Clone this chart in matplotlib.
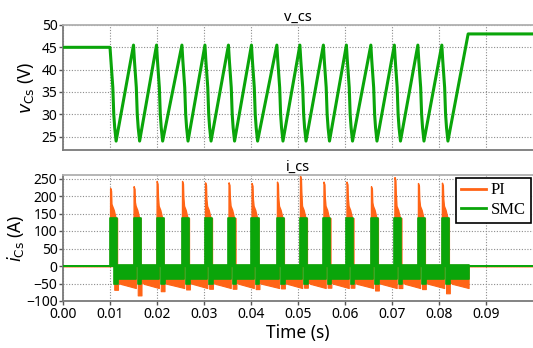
import matplotlib
matplotlib.use("Agg")
import matplotlib.pyplot as plt
from matplotlib.lines import Line2D

# ---- values ----
# start of each discharge pulse (s) = v_cs peaks
pulse_t = [0.0100, 0.0150, 0.0199, 0.0253, 0.0302, 0.0352, 0.0401, 0.0455,
           0.0504, 0.0554, 0.0603, 0.0655, 0.0705, 0.0755, 0.0806]
# PI current spike at each pulse (A)
pi_peak = [223, 228, 243, 243, 239, 239, 237, 241, 258, 241, 241, 228, 254, 237, 238]
# PI negative dip at end of each pulse (A)
pi_dip = [-68, -84, -72, -67, -65, -65, -66, -64, -62, -62, -62, -70, -63, -66, -78]

# v_cs drop profile after a peak
drop_dt = [0.0, 0.0002, 0.0006, 0.0008, 0.0010, 0.0013]
drop_v = [45.5, 42.0, 36.0, 30.0, 27.0, 24.0]
v_rest = 45.0
v_end = 48.0
t_end_rise = 0.0862

# current levels
smc_pulse = 137
smc_band = (-37, 3)
smc_dip = -50
pi_band = (-46, -51, -63)   # start, shortly after, end of each negative band
pi_shoulder = [172, 160, 137]
band_end = 0.0863
t_stop = 0.1

w = 0.0015  # pulse width

# ---- build v_cs path ----
tv, vv = [0.0, pulse_t[0]], [v_rest, v_rest]
for k, tp in enumerate(pulse_t):
    for d, val in zip(drop_dt, drop_v):
        if k == 0 and d == 0.0:
            continue
        tv.append(tp + d)
        vv.append(val)
tv += [t_end_rise, t_stop]
vv += [v_end, v_end]

# ---- build current envelopes ----
g_hi_t, g_hi = [0.0], [0]
o_hi_t, o_hi = [0.0], [0]
g_lo_t, g_lo = [0.0], [0]
o_lo_t, o_lo = [0.0], [0]
for k, tp in enumerate(pulse_t):
    base = 0 if k == 0 else smc_band[1]
    g_hi_t += [tp, tp, tp + w, tp + w]
    g_hi += [base, smc_pulse, smc_pulse, smc_band[1]]
    o_hi_t += [tp, tp + 0.00003, tp + 0.00022, tp + 0.0003, tp + 0.00045,
               tp + 0.0008, tp + 0.0012, tp + w, tp + w]
    o_hi += [base, pi_peak[k], pi_peak[k] - 8, pi_peak[k] - 45, pi_shoulder[0],
             pi_shoulder[1], pi_shoulder[2], smc_pulse, smc_band[1]]

    ns, ge, se = tp + 0.0005, tp + 0.0009, tp + w + 0.0002
    if k == 0:
        g_lo_t += [ge, ge, se, se]
        g_lo += [0, smc_dip, smc_dip, smc_band[0]]
        o_lo_t += [ge, ge, se, se, se + 0.0005]
        o_lo += [0, pi_dip[k], pi_dip[k], pi_band[0], pi_band[1]]
    else:
        g_lo_t += [ns, ns, ge, ge, se, se]
        g_lo += [smc_band[0], 0, 0, smc_dip, smc_dip, smc_band[0]]
        o_lo_t += [ns, ns, ge, ge, se, se, se + 0.0005]
        o_lo += [pi_band[2], 0, 0, pi_dip[k], pi_dip[k], pi_band[0], pi_band[1]]

g_hi_t += [band_end, band_end, t_stop]
g_hi += [smc_band[1], 0, 0]
o_hi_t += [band_end, band_end, t_stop]
o_hi += [smc_band[1], 0, 0]
g_lo_t += [band_end, band_end, t_stop]
g_lo += [smc_band[0], 0, 0]
o_lo_t += [band_end, band_end, t_stop]
o_lo += [pi_band[2], 0, 0]

# ---- style ----
orange = "#ff6416"
green = "#0aa50a"
plt.rcParams["font.family"] = ["Noto Sans", "DejaVu Sans"]
plt.rcParams["font.size"] = 10

fig = plt.figure(figsize=(5.33, 3.48), dpi=100)
ax1 = fig.add_axes([63 / 533, 1 - 150 / 348, 470 / 533, 125 / 348])
ax2 = fig.add_axes([63 / 533, 1 - 301 / 348, 470 / 533, 126 / 348])

ax1.plot(tv, vv, color=orange, lw=1.0, zorder=2)
ax1.plot(tv, vv, color=green, lw=2.2, zorder=3)

ax2.fill_between(o_hi_t, 0, o_hi, color=orange, lw=1.0, zorder=2)
ax2.fill_between(o_lo_t, o_lo, 0, color=orange, lw=0.8, zorder=2)
ax2.fill_between(g_hi_t, 0, g_hi, color=green, lw=1.2, zorder=3)
ax2.fill_between(g_lo_t, g_lo, 0, color=green, lw=1.2, zorder=3)

xt = [i / 100 for i in range(10)]
for ax in (ax1, ax2):
    ax.set_xlim(0, t_stop)
    ax.set_xticks(xt)
    ax.grid(True, color="#8c8c8c", linestyle=(0, (1, 1.5)), lw=0.8)
    ax.set_axisbelow(True)
    ax.tick_params(direction="out", length=3, width=1, color="#555555",
                   labelsize=10, pad=1)
    for s in ("left", "bottom"):
        ax.spines[s].set_color("#7a7a7a")
        ax.spines[s].set_linewidth(1.3)
    ax.spines["top"].set_color("#b0b0b0")
    ax.spines["top"].set_linewidth(1.3)
    ax.spines["right"].set_visible(False)

ax1.set_ylim(22, 50)
ax1.set_yticks([25, 30, 35, 40, 45, 50])
ax1.tick_params(axis="x", labelbottom=False, length=0)
ax1.set_title("v_cs", fontsize=10.5, pad=3)
ax1.set_ylabel(r"$v_{\mathrm{Cs}}$ (V)", fontsize=12.5, labelpad=4)

ax2.set_ylim(-100, 260)
ax2.set_yticks(range(-100, 251, 50))
ax2.set_xticklabels([f"{x:.2f}" for x in xt])
ax2.set_title("i_cs", fontsize=10.5, pad=3)
ax2.set_ylabel(r"$i_{\mathrm{Cs}}$ (A)", fontsize=12.5, labelpad=0)
ax2.set_xlabel("Time (s)", fontsize=12.5, labelpad=2)

handles = [Line2D([], [], color=orange, lw=2), Line2D([], [], color=green, lw=2)]
leg = ax2.legend(handles, ["PI", "SMC"], loc="upper right", fancybox=False,
                 edgecolor="black", framealpha=1, borderaxespad=0.15,
                 handlelength=1.5, handletextpad=0.3, borderpad=0.3,
                 labelspacing=0.2, prop={"family": "Liberation Serif", "size": 12})
leg.get_frame().set_linewidth(1.2)
leg.set_zorder(5)

fig.savefig("out.png", dpi=100)
